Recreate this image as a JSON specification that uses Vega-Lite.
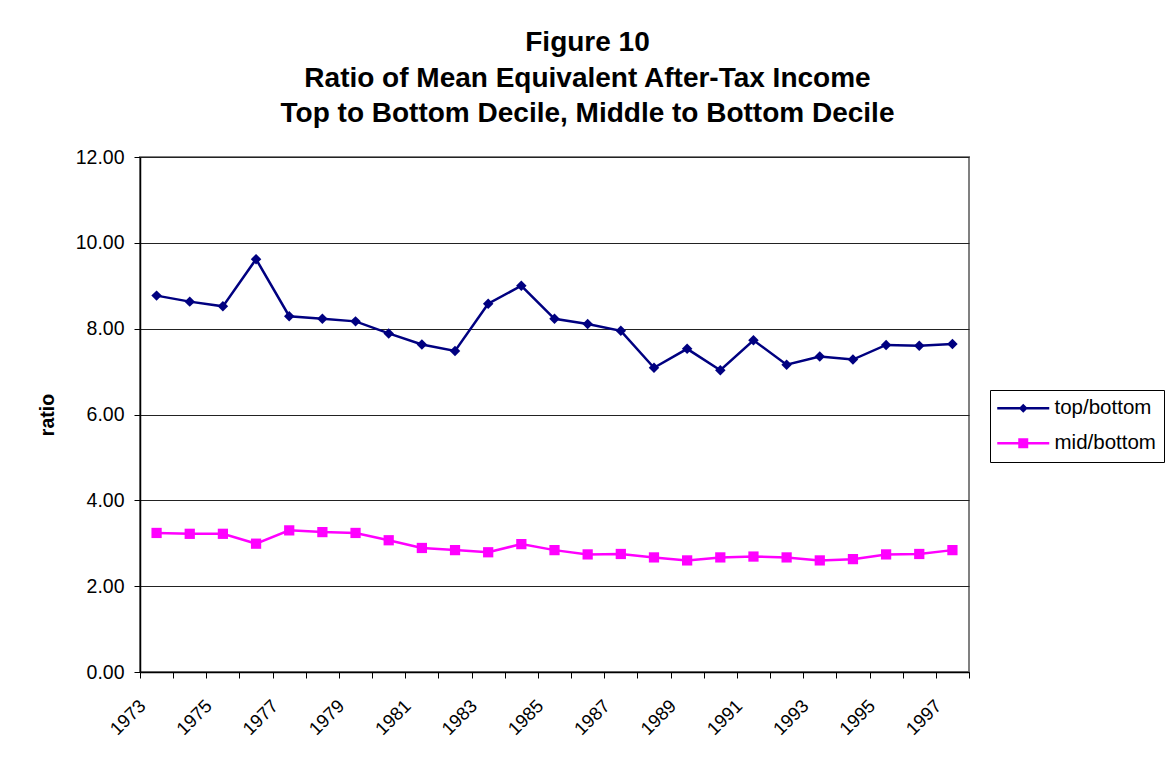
{
  "$schema": "https://vega.github.io/schema/vega-lite/v6.json",
  "autosize": {"type": "none"},
  "padding": {"left": 140, "top": 157, "right": 204, "bottom": 96},
  "width": 829,
  "height": 515,
  "background": "#ffffff",
  "title": {
    "text": ["Figure 10", "Ratio of Mean Equivalent After-Tax Income", "Top to Bottom Decile, Middle to Bottom Decile"],
    "font": "Liberation Sans",
    "fontSize": 28,
    "fontWeight": "bold",
    "color": "#000000",
    "lineHeight": 35.5,
    "anchor": "middle",
    "frame": "group",
    "dx": 33,
    "offset": 19
  },
  "data": {
    "values": [
      {"year": 1973, "series": "top/bottom", "value": 8.77},
      {"year": 1974, "series": "top/bottom", "value": 8.63},
      {"year": 1975, "series": "top/bottom", "value": 8.52},
      {"year": 1976, "series": "top/bottom", "value": 9.62},
      {"year": 1977, "series": "top/bottom", "value": 8.29},
      {"year": 1978, "series": "top/bottom", "value": 8.23},
      {"year": 1979, "series": "top/bottom", "value": 8.17},
      {"year": 1980, "series": "top/bottom", "value": 7.89},
      {"year": 1981, "series": "top/bottom", "value": 7.63},
      {"year": 1982, "series": "top/bottom", "value": 7.48},
      {"year": 1983, "series": "top/bottom", "value": 8.58},
      {"year": 1984, "series": "top/bottom", "value": 9.0},
      {"year": 1985, "series": "top/bottom", "value": 8.23},
      {"year": 1986, "series": "top/bottom", "value": 8.11},
      {"year": 1987, "series": "top/bottom", "value": 7.95},
      {"year": 1988, "series": "top/bottom", "value": 7.09},
      {"year": 1989, "series": "top/bottom", "value": 7.53},
      {"year": 1990, "series": "top/bottom", "value": 7.03},
      {"year": 1991, "series": "top/bottom", "value": 7.73},
      {"year": 1992, "series": "top/bottom", "value": 7.16},
      {"year": 1993, "series": "top/bottom", "value": 7.35},
      {"year": 1994, "series": "top/bottom", "value": 7.28},
      {"year": 1995, "series": "top/bottom", "value": 7.62},
      {"year": 1996, "series": "top/bottom", "value": 7.6},
      {"year": 1997, "series": "top/bottom", "value": 7.64},
      {"year": 1973, "series": "mid/bottom", "value": 3.24},
      {"year": 1974, "series": "mid/bottom", "value": 3.22},
      {"year": 1975, "series": "mid/bottom", "value": 3.22},
      {"year": 1976, "series": "mid/bottom", "value": 2.99},
      {"year": 1977, "series": "mid/bottom", "value": 3.3},
      {"year": 1978, "series": "mid/bottom", "value": 3.26},
      {"year": 1979, "series": "mid/bottom", "value": 3.24},
      {"year": 1980, "series": "mid/bottom", "value": 3.07},
      {"year": 1981, "series": "mid/bottom", "value": 2.89},
      {"year": 1982, "series": "mid/bottom", "value": 2.84},
      {"year": 1983, "series": "mid/bottom", "value": 2.79},
      {"year": 1984, "series": "mid/bottom", "value": 2.98},
      {"year": 1985, "series": "mid/bottom", "value": 2.84},
      {"year": 1986, "series": "mid/bottom", "value": 2.74},
      {"year": 1987, "series": "mid/bottom", "value": 2.75},
      {"year": 1988, "series": "mid/bottom", "value": 2.67},
      {"year": 1989, "series": "mid/bottom", "value": 2.6},
      {"year": 1990, "series": "mid/bottom", "value": 2.67},
      {"year": 1991, "series": "mid/bottom", "value": 2.69},
      {"year": 1992, "series": "mid/bottom", "value": 2.67},
      {"year": 1993, "series": "mid/bottom", "value": 2.6},
      {"year": 1994, "series": "mid/bottom", "value": 2.63},
      {"year": 1995, "series": "mid/bottom", "value": 2.74},
      {"year": 1996, "series": "mid/bottom", "value": 2.75},
      {"year": 1997, "series": "mid/bottom", "value": 2.84}
    ]
  },
  "encoding": {
    "x": {
      "field": "year",
      "type": "ordinal",
      "bandPosition": 0.5,
      "scale": {"type": "band", "paddingInner": 0, "paddingOuter": 0},
      "axis": {
        "title": null,
        "tickBand": "extent",
        "labelExpr": "datum.value % 2 == 1 ? datum.label : ''",
        "labelAngle": -45,
        "labelOverlap": false,
        "labelFont": "Liberation Sans",
        "labelFontSize": 18.5,
        "labelColor": "#000000",
        "labelPadding": 18,
        "labelOffset": -21,
        "domainColor": "#000000",
        "domainWidth": 1.5,
        "tickColor": "#000000",
        "tickWidth": 1,
        "tickSize": 6,
        "grid": false
      }
    },
    "y": {
      "field": "value",
      "type": "quantitative",
      "scale": {"domain": [0, 12], "nice": false, "zero": true},
      "axis": {
        "title": "ratio",
        "titleFont": "Liberation Sans",
        "titleFontSize": 19.5,
        "titleFontWeight": "bold",
        "titleColor": "#000000",
        "titlePadding": 18,
        "values": [0, 2, 4, 6, 8, 10, 12],
        "format": ".2f",
        "labelFont": "Liberation Sans",
        "labelFontSize": 19.5,
        "labelColor": "#000000",
        "labelPadding": 10,
        "domainColor": "#000000",
        "domainWidth": 1.5,
        "tickColor": "#000000",
        "tickWidth": 1,
        "tickSize": 6,
        "grid": true,
        "gridColor": "#222222",
        "gridWidth": 1
      }
    },
    "color": {
      "field": "series",
      "type": "nominal",
      "scale": {"domain": ["top/bottom", "mid/bottom"], "range": ["#000080", "#FF00FF"]},
      "legend": {
        "title": null,
        "orient": "none",
        "legendX": 850,
        "legendY": 233,
        "strokeColor": "#000000",
        "fillColor": "#ffffff",
        "padding": 8,
        "rowPadding": 14,
        "labelFont": "Liberation Sans",
        "labelFontSize": 20.5,
        "labelColor": "#000000",
        "symbolSize": 100,
        "symbolOffset": 15,
        "labelOffset": 21,
        "symbolOpacity": 1,
        "symbolStrokeWidth": 0
      }
    }
  },
  "layer": [
    {
      "transform": [{"filter": "false"}],
      "mark": {"type": "point", "filled": true, "size": 100, "opacity": 1},
      "encoding": {
        "shape": {
          "field": "series",
          "type": "nominal",
          "scale": {
            "domain": ["top/bottom", "mid/bottom"],
            "range": [
              "M-5.2,-0.25H5.2V0.25H-5.2Z M-0.9,0L0,-0.9L0.9,0L0,0.9Z",
              "M-5.2,-0.25H5.2V0.25H-5.2Z M-1,-1H1V1H-1Z"
            ]
          },
          "legend": {"title": null}
        }
      }
    },
    {
      "mark": {"type": "line", "strokeWidth": 2.5}
    },
    {
      "transform": [{"filter": "datum.series === 'top/bottom'"}],
      "mark": {"type": "point", "filled": true, "size": 110, "opacity": 1, "shape": "diamond"}
    },
    {
      "transform": [{"filter": "datum.series === 'mid/bottom'"}],
      "mark": {"type": "point", "filled": true, "size": 105, "opacity": 1, "shape": "square"}
    }
  ],
  "config": {
    "view": {"stroke": "#808080", "strokeWidth": 2},
    "font": "Liberation Sans"
  }
}
